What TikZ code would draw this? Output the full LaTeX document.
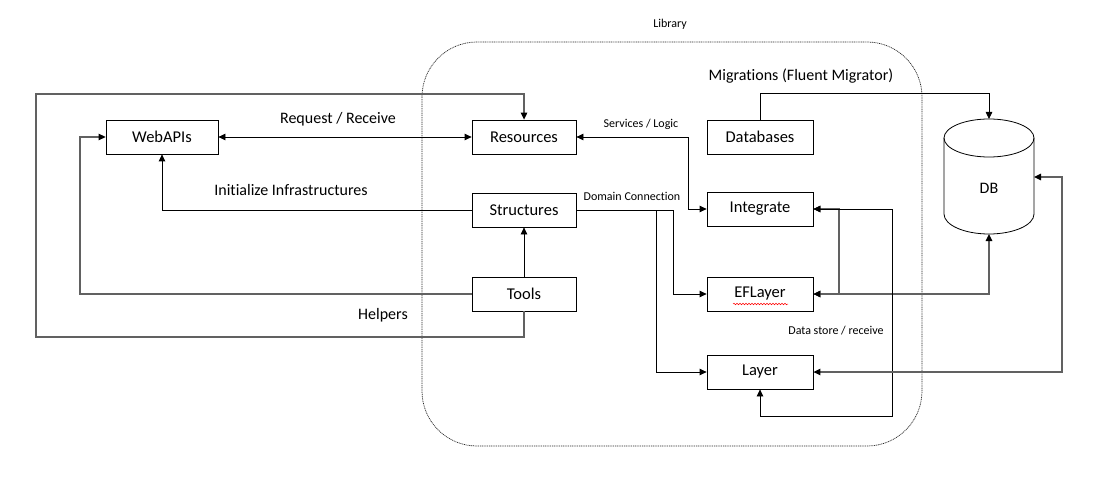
\documentclass[tikz,border=0pt]{standalone}
\usepackage{fontspec}
\setmainfont[Ligatures={NoCommon}]{Carlito}
\usetikzlibrary{arrows.meta,decorations.pathmorphing}
\begin{document}
\begin{tikzpicture}[x=1pt,y=-1pt,
  box/.style={draw,line width=0.8pt,minimum width=104pt,minimum height=34pt,inner sep=0pt,font=\fontsize{16.5}{19}\selectfont},
  midlbl/.style={font=\fontsize{16}{19}\selectfont,inner sep=0pt},
  smalllbl/.style={font=\fontsize{12}{14}\selectfont,inner sep=0pt},
  line/.style={line width=0.8pt},
  greyline/.style={line width=1.3pt,draw=black!62},
  tip/.style={-{Triangle[length=7pt,width=6.5pt,color=black]}},
  bitip/.style={{Triangle[length=7pt,width=6.5pt,color=black]}-{Triangle[length=7pt,width=6.5pt,color=black]}}
]
\useasboundingbox (0,0) rectangle (1103,484);
\fill[white] (0,0) rectangle (1103,484);

% Library boundary
\draw[dash pattern=on 1pt off 0.8pt,line width=0.7pt,draw=black!85,rounded corners=55pt] (422,42) rectangle (922,446);
\node[smalllbl] (lib) at (670,24) {Library};

% boxes
\node[box,minimum width=112pt] (web) at (162,137) {WebAPIs};
\node[box] (res) at (524,137) {Resources};
\node[box] (str) at (524,210) {Structures};
\node[box] (tools) at (524,294) {Tools};
\node[box,minimum width=106pt] (dbs) at (760,137) {Databases};
\node[box,minimum width=106pt] (int) at (760,209) {Integrate};
\node[box,minimum width=106pt] (ef) at (760,294) {EFLayer};
\node[box,minimum width=106pt] (layer) at (760,372) {Layer};
\draw[red,line width=0.5pt,decorate,decoration={snake,amplitude=0.8pt,segment length=3pt}] (733,304) -- (788,304);

% DB cylinder
\node[font=\fontsize{16}{19}\selectfont,inner sep=0pt] (db) at (989,188) {DB};
\draw[line] (989,138) ellipse [x radius=45, y radius=19];
\draw[line] (944,138) -- (944,214) arc[start angle=180,end angle=0,x radius=45,y radius=20] -- (1034,138);
\coordinate (dbtop) at (989,119);
\coordinate (dbbot) at (989,234);
\coordinate (dbright) at (1034,177);

% left side connectors
\draw[line,bitip] (web.east) -- (res.west);
\node[midlbl] (rr) at (338,119) {Request / Receive};
\draw[line,tip] (str.west) -| (web.south);
\node[midlbl] (ii) at (291,190) {Initialize Infrastructures};
\draw[greyline,tip] (tools.west) -- (80,294) -- (80,137) -- (web.west);
\draw[greyline,tip] (tools.south) -- (524,337) -- (36,337) -- (36,94) -- (524,94) -- (res.north);
\node[midlbl] (hp) at (383,315) {Helpers};
\draw[line,tip] (tools.north) -- (str.south);

% middle connectors
\draw[line,bitip] (res.east) -- (688,137) |- (int.west);
\node[smalllbl] (sl) at (641,124) {Services / Logic};
\draw[line,tip] (str.east) -- (673,210) |- (ef.west);
\draw[line,tip] (656,210) |- (layer.west);
\node[smalllbl] (dc) at (632,196) {Domain Connection};

% right side connectors
\draw[line,tip] (dbs.north) -- (760,93) -| (dbtop);
\node[midlbl] (mg) at (801,76) {Migrations (Fluent Migrator)};
\draw[greyline,bitip] (int.east) -- (839,209) -- (839,294) -- (ef.east);
\draw[greyline,bitip] (ef.east) -| (dbbot);
\draw[line,bitip] (int.east) -- (892,209) -- (892,416) -| (layer.south);
\node[smalllbl] (ds) at (836,331) {Data store / receive};
\draw[greyline,bitip] (layer.east) -- (1062,372) |- (dbright);
\end{tikzpicture}
\end{document}
